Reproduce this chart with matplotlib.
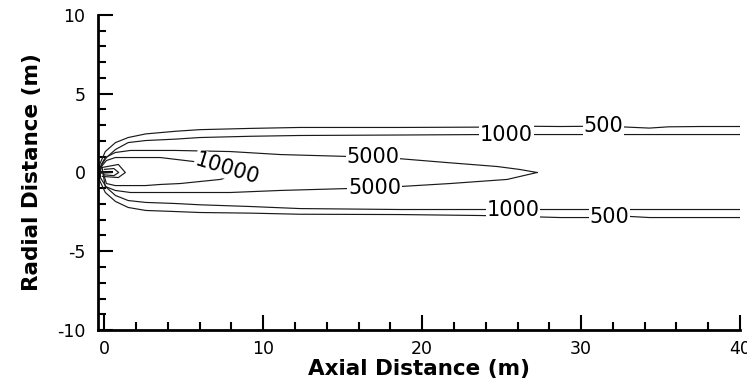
import numpy as np
import matplotlib
matplotlib.use('Agg')
import matplotlib.pyplot as plt

plt.rcParams['axes.unicode_minus'] = False

# contour polylines (axial m, radial m)
c500_x = [40, 37.5, 35.5, 34.3, 32.5, 31.2, 28.7, 26.2, 23.6, 18.6, 12.3, 9.2, 6.0, 4.5, 2.6, 1.5, 0.7, 0.06, -0.3,
          -0.3, 0.06, 0.7, 1.5, 2.6, 4.5, 6.0, 9.2, 12.3, 18.6, 23.6, 26.2, 28.7, 31.2, 32.5, 34.3, 37.5, 40]
c500_y = [2.92, 2.92, 2.90, 2.82, 2.90, 2.94, 2.92, 2.94, 2.88, 2.86, 2.86, 2.80, 2.72, 2.62, 2.45, 2.22, 1.90, 1.33, 0.51,
          -0.50, -1.27, -1.84, -2.22, -2.41, -2.48, -2.54, -2.58, -2.65, -2.67, -2.73, -2.79, -2.86, -2.86, -2.76, -2.86, -2.86, -2.86]

c1000_x = [40, 34, 28, 24, 18.6, 12.3, 9.2, 6.0, 4.5, 2.6, 1.5, 0.7, 0.13, -0.25,
           -0.25, 0.13, 0.7, 1.5, 2.6, 4.5, 6.0, 9.2, 12.3, 18.6, 24, 28, 34, 40]
c1000_y = [2.41, 2.41, 2.41, 2.41, 2.38, 2.35, 2.30, 2.22, 2.12, 2.03, 1.90, 1.46, 0.95, 0.38,
           -0.32, -0.95, -1.46, -1.78, -1.90, -1.97, -2.05, -2.16, -2.29, -2.35, -2.35, -2.35, -2.35, -2.35]

c5000_x = [27.23, 26.16, 24.72, 21.57, 18.43, 15.28, 11.07, 7.92, 4.47, 1.64, 0.69, 0.06, -0.19,
           0.06, 0.69, 1.64, 4.47, 7.92, 11.07, 15.28, 18.62, 21.76, 25.35, 27.23]
c5000_y = [0.0, 0.19, 0.38, 0.63, 0.89, 1.02, 1.14, 1.33, 1.40, 1.40, 1.27, 0.95, 0.51,
           -0.89, -1.14, -1.27, -1.27, -1.27, -1.14, -1.02, -0.89, -0.70, -0.44, 0.0]

c10000_x = [9.0, 7.5, 5.6, 3.52, 0.69, 0.13, -0.19, 0.13, 0.69, 2.58, 3.52, 4.78, 7.3, 9.0]
c10000_y = [0.05, 0.50, 0.70, 0.95, 0.95, 0.76, 0.38, -0.70, -0.83, -0.83, -0.76, -0.70, -0.44, 0.05]

# small unlabelled loops at the source
core_x = [[-0.13, 0.88, 1.32, 0.88, -0.13], [0.0, 0.6, 0.9, 0.6, 0.0], [-0.3, 0.5, -0.3]]
core_y = [[0.32, 0.51, 0.0, -0.32, -0.25], [0.2, 0.25, 0.0, -0.2, -0.15], [0.05, 0.0, -0.05]]

levels = ['500', '1000', '5000', '10000']
lines_x = [c500_x, c1000_x, c5000_x, c10000_x]
lines_y = [c500_y, c1000_y, c5000_y, c10000_y]

# where each label sits: (level index, axial position, side of axis)
label_spots = [(0, 31.4, 1), (0, 31.8, -1), (1, 25.3, 1), (1, 25.7, -1), (2, 16.9, 1), (2, 17.0, -1)]


def point_on(xs, ys, x0, side):
    for i in range(len(xs) - 1):
        if xs[i] != xs[i + 1] and (xs[i] - x0) * (xs[i + 1] - x0) <= 0 and np.sign(ys[i] + ys[i + 1]) == side:
            t = (x0 - xs[i]) / (xs[i + 1] - xs[i])
            return ys[i] + t * (ys[i + 1] - ys[i])
    return 0.0


fig = plt.figure(figsize=(7.47, 3.89), dpi=100)
ax = fig.add_axes([98 / 747, 1 - 330 / 389, 642 / 747, 315 / 389])

for xs, ys in zip(lines_x, lines_y):
    ax.plot(xs, ys, color='#1a1a1a', lw=0.85)
for xs, ys in zip(core_x, core_y):
    ax.plot(xs, ys, color='#1a1a1a', lw=0.85)

box = dict(facecolor='white', edgecolor='none', pad=0.5)
for k, x0, side in label_spots:
    y0 = point_on(lines_x[k], lines_y[k], x0, side)
    ax.text(x0, y0, levels[k], fontsize=15, ha='center', va='center', bbox=box, zorder=3)
ax.text(7.74, 0.25, levels[3], fontsize=15, ha='center', va='center', rotation=-17, bbox=box, zorder=3)

ax.set_xlim(-0.4, 40)
ax.set_ylim(-10, 10)
ax.set_xticks([0, 10, 20, 30, 40])
ax.set_yticks([-10, -5, 0, 5, 10])
ax.set_xticks(np.arange(0, 41, 2), minor=True)
ax.set_yticks(np.arange(-10, 11, 1), minor=True)
ax.tick_params(which='both', direction='in', width=1.5, labelsize=12.5)
ax.tick_params(which='major', length=10.5)
ax.tick_params(which='minor', length=6)
ax.tick_params(axis='x', pad=7)
ax.tick_params(axis='y', pad=9)
for s in ['top', 'right']:
    ax.spines[s].set_visible(False)
for s in ['left', 'bottom']:
    ax.spines[s].set_linewidth(2)

ax.set_xlabel('Axial Distance (m)', fontsize=15.5, fontweight='bold', labelpad=1)
ax.set_ylabel('Radial Distance (m)', fontsize=15.5, fontweight='bold', labelpad=11)

plt.savefig('out.png', dpi=100)
